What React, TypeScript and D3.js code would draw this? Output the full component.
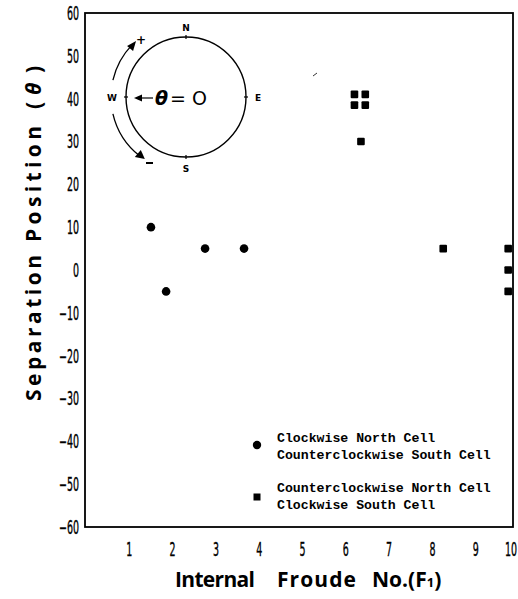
import React from "react";
import * as d3 from "d3";

const xTicks = [1, 2, 3, 4, 5, 6, 7, 8, 9, 10];
const yTicks = [60, 50, 40, 30, 20, 10, 0, -10, -20, -30, -40, -50, -60];

const circleX = [1.5, 1.85, 2.75, 3.65];
const circleY = [10, -5, 5, 5];

const squareX = [6.2, 6.45, 6.2, 6.45, 6.35, 8.25, 9.75, 9.75, 9.75];
const squareY = [41, 41, 38.5, 38.5, 30, 5, 5, 0, -5];

const legendCircle = ["Clockwise North Cell", "Counterclockwise South Cell"];
const legendSquare = ["Counterclockwise North Cell", "Clockwise South Cell"];

const W = 518;
const H = 599;
const left = 85;
const right = 513;
const top = 13;
const bottom = 527;

export default function App() {
  const x = d3.scaleLinear().domain([0, 10]).range([86, 519]);
  const y = d3.scaleLinear().domain([-60, 60]).range([bottom, top]);

  const cx = 186, cy = 97, r = 60, ra = 75;
  const deg = Math.PI / 180;
  const arcPath = (a0: number, a1: number) => {
    const p = d3.path();
    p.arc(cx, cy, ra, -a0 * deg, -a1 * deg, a1 > a0);
    return p.toString();
  };
  const pt = (a: number) => [cx + ra * Math.cos(a * deg), cy - ra * Math.sin(a * deg)];
  const upperArc = arcPath(167, 136);
  const lowerArc = arcPath(193, 232);
  const up = pt(136);
  const lo = pt(232);

  const tickFont = "'DejaVu Sans', sans-serif";
  const mono = "'Liberation Mono', 'DejaVu Sans Mono', monospace";
  const titleFont = "'Open Sans', 'DejaVu Sans', sans-serif";

  return (
    <svg width={W} height={H} style={{ position: "absolute", left: 0, top: 0, background: "#fff" }}>
      {/* frame */}
      <rect x={left} y={top} width={right - left} height={bottom - top} fill="none" stroke="#000" strokeWidth={1.8} />

      {/* y ticks */}
      {yTicks.map((t) => (
        <text key={t} x={0} y={0} dy="0.36em" textAnchor="end" fontFamily={tickFont} fontSize={19}
          stroke="#000" strokeWidth={0.4}
          transform={`translate(79,${y(t)}) scale(0.5,1)`}>
          {t < 0 ? "\u2212" + Math.abs(t) : t}
        </text>
      ))}
      {/* x ticks */}
      {xTicks.map((t) => (
        <text key={t} x={0} y={0} dy="0.36em" textAnchor="middle" fontFamily={tickFont} fontSize={19}
          stroke="#000" strokeWidth={0.4}
          transform={`translate(${Math.min(x(t), 511)},549) scale(0.5,1)`}>
          {t}
        </text>
      ))}

      {/* y axis title */}
      <g transform="translate(41,0) rotate(-90)" fontFamily={titleFont} fontWeight="bold" fontSize={21}>
        <text x={-401} y={0} textLength={146} lengthAdjust="spacing">Separation</text>
        <text x={-242} y={0} textLength={116} lengthAdjust="spacing">Position</text>
        <text x={-109} y={0}>(</text>
        <text x={-95} y={0} fontStyle="italic">θ</text>
        <text x={-73} y={0}>)</text>
      </g>
      {/* x axis title */}
      <g fontFamily={titleFont} fontWeight="bold" fontSize={21}>
        <text x={175} y={587} textLength={80} lengthAdjust="spacing">Internal</text>
        <text x={277} y={587} textLength={79} lengthAdjust="spacing">Froude</text>
        <text x={372} y={587}>No.(F<tspan fontSize={13}>1</tspan>)</text>
      </g>

      {/* inset compass */}
      <circle cx={cx} cy={cy} r={r} fill="none" stroke="#000" strokeWidth={1.4} />
      <line x1={cx} y1={cy - r - 2} x2={cx} y2={cy - r + 2} stroke="#000" strokeWidth={1.2} />
      <line x1={cx} y1={cy + r - 2} x2={cx} y2={cy + r + 2} stroke="#000" strokeWidth={1.2} />
      <line x1={cx - r - 2} y1={cy} x2={cx - r + 2} y2={cy} stroke="#000" strokeWidth={1.2} />
      <line x1={cx + r - 2} y1={cy} x2={cx + r + 2} y2={cy} stroke="#000" strokeWidth={1.2} />
      <text x={cx} y={31} textAnchor="middle" fontFamily="'DejaVu Sans', sans-serif" fontWeight="bold" fontSize={9}>N</text>
      <text x={cx} y={172} textAnchor="middle" fontFamily="'DejaVu Sans', sans-serif" fontWeight="bold" fontSize={9}>S</text>
      <text x={112} y={101} textAnchor="middle" fontFamily="'DejaVu Sans', sans-serif" fontWeight="bold" fontSize={9}>W</text>
      <text x={258} y={101} textAnchor="middle" fontFamily="'DejaVu Sans', sans-serif" fontWeight="bold" fontSize={9}>E</text>
      <line x1={153} y1={98} x2={138} y2={98} stroke="#000" strokeWidth={1.2} />
      <path d="M134,98 L142,94.5 L142,101.5 Z" fill="#000" />
      <text x={155} y={105} fontFamily="'DejaVu Sans', sans-serif" fontSize={19}>
        <tspan fontStyle="italic" fontWeight="bold">θ</tspan>
        <tspan dx={2}>= O</tspan>
      </text>
      <path d={upperArc} fill="none" stroke="#000" strokeWidth={1.3} />
      <path d={lowerArc} fill="none" stroke="#000" strokeWidth={1.3} />
      <path d={`M${up[0] + 4},${up[1] - 4} L${up[0] - 5},${up[1] + 1} L${up[0] + 1},${up[1] + 6} Z`} fill="#000" />
      <path d={`M${lo[0] + 5},${lo[1] + 3} L${lo[0] - 5},${lo[1] + 1} L${lo[0] + 1},${lo[1] - 6} Z`} fill="#000" />
      <text x={141} y={44} textAnchor="middle" fontFamily="'DejaVu Sans', sans-serif" fontWeight="bold" fontSize={12}>+</text>
      <line x1={146} y1={163} x2={153} y2={163} stroke="#000" strokeWidth={2} />

      {/* stray mark */}
      <path d="M313,76 L317,73" stroke="#000" strokeWidth={0.8} />

      {/* data */}
      {circleX.map((v, i) => (
        <circle key={"c" + i} cx={x(v)} cy={y(circleY[i])} r={4.3} fill="#000" />
      ))}
      {squareX.map((v, i) => (
        <rect key={"s" + i} x={x(v) - 3.8} y={y(squareY[i]) - 3.8} width={7.6} height={7.6} rx={1} fill="#000" />
      ))}

      {/* legend */}
      <circle cx={257} cy={445} r={4.2} fill="#000" />
      {legendCircle.map((s, i) => (
        <text key={s} x={277} y={442 + i * 17} fontFamily={mono} fontSize={13.2} fontWeight="bold">{s}</text>
      ))}
      <rect x={253.5} y={493.5} width={7} height={7} fill="#000" />
      {legendSquare.map((s, i) => (
        <text key={s} x={277} y={492 + i * 17} fontFamily={mono} fontSize={13.2} fontWeight="bold">{s}</text>
      ))}
    </svg>
  );
}
